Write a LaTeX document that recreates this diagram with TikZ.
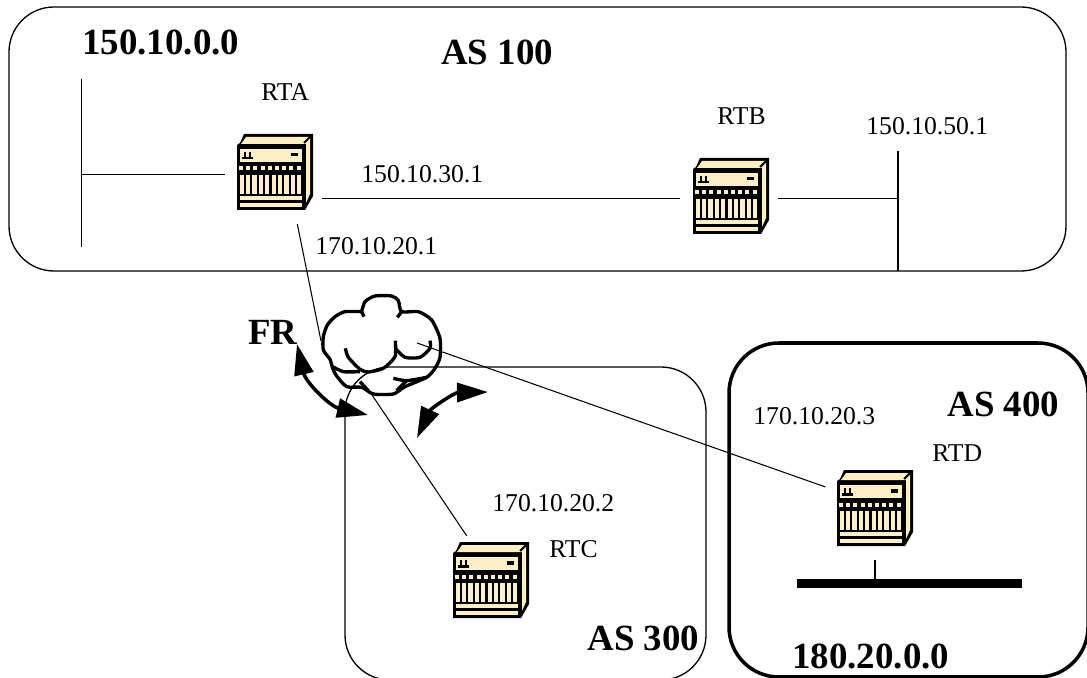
\documentclass[tikz,border=0pt]{standalone}
\usepackage{fontspec}
\setmainfont{Liberation Serif}
\usetikzlibrary{arrows.meta, calc}
\definecolor{routercream}{HTML}{FFEFC8}
\tikzset{
  asbox/.style={draw, line width=0.75pt, rounded corners=0.9cm},
  link/.style={draw, line width=0.6pt},
  addr/.style={anchor=base west, inner sep=0pt, font=\fontsize{14.6}{16}\selectfont},
  title/.style={anchor=base west, inner sep=0pt, font=\fontsize{21}{24}\selectfont\bfseries},
  cloudline/.style={draw, line width=1.9pt, line join=round},
  swing/.style={line width=2pt, {Triangle[length=0.62cm,width=0.38cm]}-{Triangle[length=0.62cm,width=0.38cm]}},
  router/.pic={
    \fill (3,9) -- (7,0) -- (76,0) -- (76,62) -- (68,76) -- (0,76) -- (0,11) -- cycle;
    \fill[routercream] (4,10) -- (9,3) -- (73,3) -- (73,60) -- (69,69) -- (69,10) -- cycle;
    \draw[line width=1.2pt] (67,9) -- (73,3);
    \fill (0,11) rectangle (68,76);
    \fill[routercream] (3,15) rectangle (65,28);
    \fill[routercream] (3,62) rectangle (65,66);
    \fill[routercream] (3,69) rectangle (65,73);
    \foreach \i in {0,...,8} \fill[routercream] (2+7.2*\i,32.5) rectangle (6+7.2*\i,36.5);
    \foreach \i in {0,...,9} \fill[routercream] (2.5+6.4*\i,41) rectangle (6.7+6.4*\i,60);
    \fill (5,23) rectangle (16,25.5);
    \fill (7,18) rectangle (9,23);
    \fill (12,18) rectangle (14,23);
    \fill (54,19) rectangle (61,22.5);
    \node[minimum size=1.52cm, inner sep=0pt] (box) at (38,38) {};
  }
}

\begin{document}
\begin{tikzpicture}[x=0.02cm, y=-0.02cm]
\useasboundingbox (0,0) rectangle (1087,678);
\begin{scope}
\clip (0,0) rectangle (1087,678);
\draw[asbox] (9,7) rectangle (1066,271);
\draw[asbox] (345,367) rectangle (706,680);
\draw[asbox, line width=2pt, rounded corners=1cm] (729,343) rectangle (1088,677);
\end{scope}

\pic (RTA) at (237,134) {router};
\pic (RTB) at (693,158) {router};
\pic (RTC) at (453,542) {router};
\pic (RTD) at (837,470) {router};

\node[fill, minimum width=4.5cm, minimum height=0.18cm, inner sep=0pt] (bus) at (909.5,583.5) {};

\coordinate (netAtop) at (81.5,79);
\coordinate (netAbot) at (81.5,247);
\coordinate (netBtop) at (898,151);
\coordinate (netBbot) at (898,271);
\coordinate (cloudA) at (321,341);
\coordinate (cloudC) at (370,392);
\coordinate (cloudD) at (417,343);
\coordinate (swingA1) at (297,344);
\coordinate (swingA2) at (368,415);
\coordinate (swingB1) at (417,438);
\coordinate (swingB2) at (488,392);

\path[link] (netAtop) -- (netAbot);
\path[link] (netBtop) -- (netBbot);
\path[link, shorten >=0.24cm] (netAtop |- RTAbox.184) -- (RTAbox.184);
\path[link, shorten <=0.18cm, shorten >=0.26cm] (RTAbox.-35) -- (RTAbox.-35 -| RTBbox.west);
\path[link, shorten <=0.18cm] (RTBbox.-4.5) -- (RTBbox.-4.5 -| netBtop);
\path[link, shorten <=0.28cm] (RTAbox.-63) -- (cloudA);
\path[link, shorten >=0.14cm] (cloudC) -- (RTCbox.118);
\path[link, shorten >=0.24cm] (cloudD) -- (RTDbox.156);
\path[link, shorten <=0.28cm] (RTDbox.south) -- (RTDbox.south |- bus.north);

% cloud
\begin{scope}[shift={(240,270)}, x=0.02cm/3, y=-0.02cm/3]
\path[cloudline] plot[smooth, tension=0.4] coordinates {(365,125) (315,125) (285,140) (262,165) (250,200) (250,240) (270,268) (278,295) (290,318) (320,350) (365,352) (400,372) (460,372) (495,350) (560,322) (585,295) (600,262) (600,205) (575,150) (535,125) (485,125) (475,92) (455,78) (405,78) (375,95) (365,125)};
\path[cloudline] (365,125) -- (372,140);
\path[cloudline] (485,125) -- (472,142);
\path[cloudline] plot[smooth, tension=0.4] coordinates {(316,235) (325,262) (360,298) (385,306) (430,295) (465,260) (466,212)};
\path[cloudline] plot[smooth, tension=0.4] coordinates {(278,290) (310,305) (360,305)};
\path[cloudline] plot[smooth, tension=0.4] coordinates {(466,235) (495,262) (540,262) (570,235) (570,212)};
\path[cloudline] plot[smooth, tension=0.4] coordinates {(460,325) (500,332) (560,322)};
\path[cloudline] (500,332) -- (470,362);
\path[cloudline] (360,335) -- (385,362);
\end{scope}

\draw[swing] (swingA1) to[bend right=32] (swingA2);
\draw[swing] (swingB1) to[bend left=32] (swingB2);

\node[title] (lblnetA) at (82,55) {150.10.0.0};
\node[title] (lblAS100) at (441,65) {AS 100};
\node[title] (lblFR) at (248,344) {FR};
\node[title] (lblAS400) at (947,416) {AS 400};
\node[title] (lblAS300) at (587,650) {AS 300};
\node[title] (lblnetD) at (792,668) {180.20.0.0};
\node[addr] (lblRTA) at (261,101) {RTA};
\node[addr] (lblRTB) at (717,125) {RTB};
\node[addr] (lblRTC) at (549,557) {RTC};
\node[addr] (lblRTD) at (932,461) {RTD};
\node[addr] (lblAB) at (361,183) {150.10.30.1};
\node[addr] (lblnetB) at (866,135) {150.10.50.1};
\node[addr] (lblA) at (315,255) {170.10.20.1};
\node[addr] (lblC) at (492,511) {170.10.20.2};
\node[addr] (lblD) at (753,424) {170.10.20.3};
\end{tikzpicture}
\end{document}
